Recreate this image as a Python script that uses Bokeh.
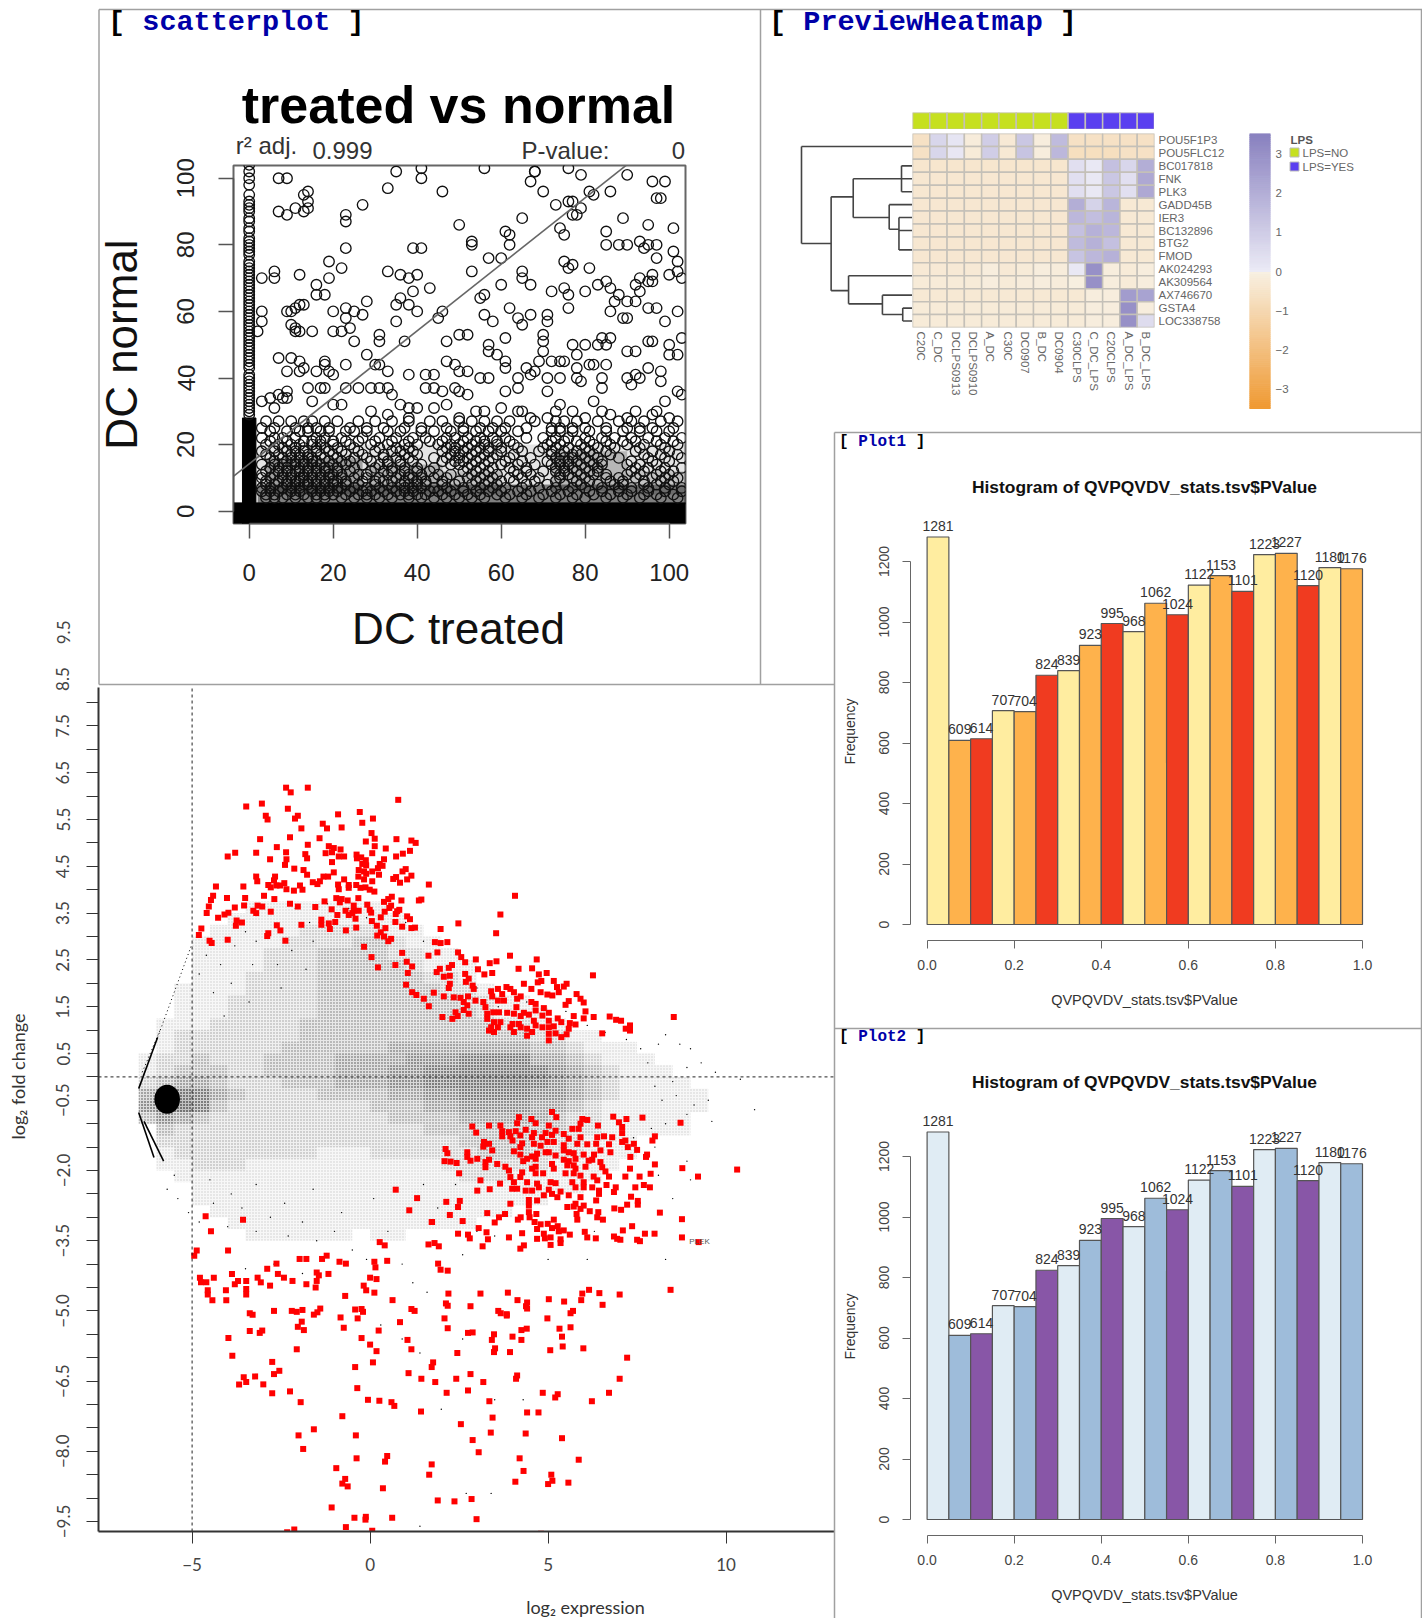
import math
import numpy as np
from bokeh.core.properties import value
from bokeh.embed import file_html
from bokeh.layouts import column
from bokeh.models import (ColumnDataSource, FactorRange, FixedTicker, LinearAxis,
                          LinearColorMapper, Range1d, CategoricalAxis)
from bokeh.plotting import figure
from bokeh.resources import INLINE

# ---------- data: histograms
hist_breaks = [i / 20 for i in range(21)]
hist_counts = [1281, 609, 614, 707, 704, 824, 839, 923, 995, 968, 1062, 1024, 1122, 1153, 1101, 1223, 1227, 1120, 1180, 1176]
hist_colors_1 = ["#FFEDA0", "#FEB24C", "#F03B20"]
hist_colors_2 = ["#E0ECF4", "#9EBCDA", "#8856A7"]

# ---------- data: heatmap
heat_rows = ["POU5F1P3", "POU5FLC12", "BC017818", "FNK", "PLK3", "GADD45B", "IER3", "BC132896", "BTG2", "FMOD",
             "AK024293", "AK309564", "AX746670", "GSTA4", "LOC338758"]
heat_cols = ["C20C", "C_DC", "DCLPS0913", "DCLPS0910", "A_DC", "C30C", "DC0907", "B_DC", "DC0904", "C30CLPS", "C_DC_LPS",
             "C20CLPS", "A_DC_LPS", "B_DC_LPS"]
heat_values = [
    [-.6, .7, .2, -.15, 1.0, -.25, 1.2, -.1, 1.6, -.6, -.6, -.6, -.6, -.6],
    [-.6, .7, .15, -.2, 1.0, -.3, 1.3, -.1, 1.7, -.7, -.7, -.7, -.6, -.6],
    [-.4, -.4, -.4, -.4, -.4, -.4, -.4, -.4, -.4, .4, .1, 1.4, .7, 2.0],
    [-.35, -.35, -.35, -.35, -.35, -.35, -.35, -.35, -.35, .4, .1, 1.2, .4, 2.2],
    [-.35, -.35, -.35, -.35, -.35, -.35, -.35, -.35, -.35, .4, .1, 1.2, .4, 2.2],
    [-.35, -.35, -.35, -.35, -.35, -.35, -.35, -.35, -.35, 2.0, .8, 1.8, -.3, -.3],
    [-.35, -.35, -.35, -.35, -.35, -.35, -.35, -.35, -.35, 1.7, 1.5, 1.8, -.3, -.3],
    [-.35, -.35, -.35, -.35, -.35, -.35, -.35, -.35, -.35, 1.4, 1.9, 1.7, -.3, -.3],
    [-.35, -.35, -.35, -.35, -.35, -.35, -.35, -.35, -.35, 1.6, 1.9, 1.4, -.3, -.3],
    [-.35, -.35, -.35, -.35, -.35, -.35, -.35, -.35, -.35, 1.3, 1.7, 1.9, -.3, -.3],
    [-.25, -.25, -.25, -.25, -.1, -.25, -.2, -.1, -.15, .1, 3.0, -.1, -.2, -.1],
    [-.2, -.2, -.2, -.2, -.1, -.2, -.15, -.1, -.15, -.05, 3.0, -.1, -.2, -.1],
    [-.3, -.3, -.3, -.3, -.3, -.3, -.3, -.3, -.3, -.3, -.1, -.1, 2.6, 2.4],
    [-.2, -.2, -.2, -.2, -.2, -.2, -.2, -.2, -.2, -.2, -.1, -.1, 3.0, -.1],
    [-.2, -.2, -.2, -.2, -.2, -.2, -.2, -.2, -.2, -.2, -.1, -.1, 3.0, .5],
]
heat_lps = ["NO"] * 9 + ["YES"] * 5
dend_vertical = [(1.0, .5, 8), (.733, 4.4, 11.65), (.534, 3, 6), (.099, 2, 4), (.21, 5, 6.9), (.122, 6, 8.5),
                 (.576, 10.5, 12.67), (.271, 12, 13.5), (.088, 13, 14)]
dend_horizontal = [(.5, 1, 0), (8, 1, .733), (4.4, .733, .534), (11.65, .733, .576), (3, .534, .099), (6, .534, .21),
                   (2, .099, 0), (3, .099, 0), (4, .099, 0), (5, .21, 0), (6.9, .21, .122), (6, .122, 0), (7, .122, 0),
                   (8.5, .122, 0), (10.5, .576, 0), (12.67, .576, .271), (12, .271, 0), (13.5, .271, .088), (13, .088, 0),
                   (14, .088, 0)]
cbar_ticks = [-3, -2, -1, 0, 1, 2, 3]

# ---------- data: scatterplot (DC treated, DC normal)
sc_column_y = [104, 102, 100, 98, 95, 92, 91, 88, 87, 84, 81, 80, 79, 77, 74, 72, 70, 69, 67, 65, 63, 61, 58, 56, 54, 52, 50, 48,
               46, 45, 43, 40, 39, 37, 36, 34, 32, 30, 29, 31, 33, 35, 38, 41, 44, 47, 49, 51, 53, 55, 57, 59, 60, 62, 64, 66, 68, 71,
               73, 75, 78, 82, 85, 90, 93]
sc_points = [(35, 102), (41, 103), (56, 103), (68, 102), (76, 103), (79, 101), (90, 101), (99, 99), (96, 99), (41, 100), (46, 96),
    (33, 97), (7, 100), (9, 100), (13, 95), (14, 96), (14, 93), (13, 90), (14, 91), (7, 90), (9, 89), (11, 91), (27, 92), (23, 89), (23, 87),
    (50, 86), (53, 81), (53, 80), (65, 88), (61, 84), (62, 83), (62, 80), (67, 99), (68, 102), (70, 96), (73, 92), (74, 85), (75, 83),
    (76, 93), (77, 93), (77, 89), (79, 91), (78, 89), (81, 96), (82, 95), (86, 96), (85, 84), (89, 88), (85, 80), (88, 80), (90, 80), (93, 81),
    (94, 79), (95, 80), (95, 86), (97, 80), (97, 76), (97, 94), (98, 94), (101, 85), (101, 78), (102, 75), (102, 72), (103, 70), (100, 71),
    (23, 79), (39, 79), (41, 79), (19, 75), (22, 73), (19, 70), (16, 68), (16, 65), (18, 65), (12, 71), (6, 72), (6, 70), (3, 70), (33, 72),
    (36, 71), (38, 70), (40, 71), (39, 66), (43, 67), (36, 64), (35, 62), (38, 62), (40, 60), (46, 60), (45, 58), (52, 53), (55, 64), (56, 65),
    (56, 59), (60, 68), (58, 57), (61, 52), (57, 76), (60, 76), (53, 72), (65, 72), (65, 70), (67, 68), (62, 61), (64, 58), (65, 56), (67, 59),
    (71, 59), (71, 57), (72, 66), (75, 75), (75, 67), (76, 65), (76, 61), (77, 74), (76, 73), (80, 66), (81, 73), (83, 68), (85, 69), (86, 67),
    (88, 65), (87, 63), (86, 60), (89, 58), (90, 58), (90, 63), (92, 63), (92, 68), (93, 70), (93, 66), (95, 69), (96, 71), (96, 69), (95, 61),
    (97, 61), (99, 57), (102, 60), (103, 52), (3, 60), (3, 57), (2, 54), (7, 46), (10, 60), (10, 46), (9, 60), (11, 61), (12, 62), (13, 62),
    (10, 56), (11, 55), (11, 54), (12, 54), (15, 54), (20, 60), (23, 61), (23, 58), (24, 55), (22, 54), (20, 54), (25, 60), (25, 51), (27, 59),
    (28, 63), (31, 53), (31, 51), (35, 57), (37, 51), (47, 51), (50, 53), (28, 47), (30, 44), (31, 44), (12, 45), (13, 43), (12, 42), (16, 42),
    (9, 42), (18, 45), (18, 44), (19, 42), (20, 41), (23, 44), (33, 42), (38, 41), (42, 41), (44, 41), (42, 37), (44, 37), (46, 36), (47, 45),
    (49, 44), (50, 42), (52, 42), (49, 37), (50, 36), (52, 35), (55, 40), (57, 40), (57, 50), (57, 48), (59, 47), (61, 45), (61, 43), (61, 36),
    (64, 40), (64, 37), (66, 43), (67, 41), (68, 42), (69, 45), (70, 48), (70, 51), (70, 53), (72, 45), (71, 40), (71, 36), (74, 40), (74, 45),
    (75, 45), (77, 50), (78, 47), (80, 50), (78, 43), (78, 40), (79, 39), (81, 44), (82, 44), (83, 50), (84, 52), (85, 50), (85, 44), (84, 40),
    (84, 37), (86, 52), (90, 48), (92, 48), (92, 41), (90, 40), (91, 38), (93, 40), (95, 51), (96, 51), (95, 43), (98, 42), (98, 39), (100, 50),
    (100, 47), (102, 47), (102, 36), (103, 35), (99, 33), (97, 30), (3, 33), (5, 34), (7, 35), (8, 34), (9, 36), (9, 34), (6, 31), (17, 37),
    (18, 37), (14, 37), (15, 33), (20, 32), (22, 32), (23, 37), (26, 37), (29, 37), (31, 37), (33, 37), (34, 35), (36, 32), (38, 31), (40, 31),
    (38, 28), (44, 31), (47, 32), (29, 30), (33, 29), (50, 28), (54, 30), (56, 30), (60, 31), (64, 30), (65, 30), (67, 28), (71, 28), (73, 30),
    (74, 32), (77, 30), (80, 28), (82, 33), (84, 30), (86, 29), (90, 28), (92, 30), (96, 29), (100, 28)]
sc_band_rows = [
    (27, [4, 7, 10, 13, 15, 18, 21, 26, 30, 34, 38, 43, 46, 50, 53, 56, 59, 62, 68, 73, 75, 78, 83, 88, 91, 94, 98, 102]),
    (25, [3, 6, 11, 14, 16, 19, 24, 28, 32, 37, 41, 47, 51, 55, 58, 61, 66, 72, 74, 77, 80, 85, 90, 93, 96, 101]),
    (24, [5, 9, 12, 14, 17, 19, 23, 25, 28, 33, 36, 41, 44, 48, 51, 54, 57, 60, 64, 72, 74, 77, 81, 85, 89, 93, 97, 100]),
    (22, [3, 6, 8, 11, 16, 18, 22, 27, 31, 35, 39, 42, 47, 49, 52, 55, 58, 61, 66, 70, 73, 76, 80, 84, 87, 91, 95, 99, 103]),
    (21, [5, 9, 13, 15, 17, 20, 23, 26, 30, 34, 38, 43, 46, 51, 54, 56, 59, 62, 72, 75, 78, 81, 85, 89, 92, 97, 101]),
    (20, [4, 7, 10, 12, 15, 17, 20, 24, 29, 33, 37, 40, 45, 48, 50, 53, 56, 59, 63, 71, 74, 79, 82, 86, 90, 94, 98, 102]),
    (19, [6, 8, 11, 13, 16, 18, 21, 25, 31, 35, 38, 47, 49, 52, 55, 57, 60, 64, 70, 73, 76, 80, 83, 87, 93, 99]),
    (18, [3, 6, 9, 11, 13, 16, 19, 22, 26, 30, 34, 36, 39, 46, 49, 51, 54, 57, 60, 65, 69, 72, 75, 78, 81, 85, 92, 96, 100]),
    (17, [4, 7, 10, 12, 14, 17, 20, 23, 27, 32, 37, 40, 48, 50, 53, 56, 59, 63, 72, 74, 77, 79, 82, 86, 94, 98, 102]),
    (16, [5, 8, 10, 12, 14, 15, 18, 21, 25, 28, 32, 35, 38, 44, 47, 50, 52, 55, 58, 62, 67, 73, 75, 77, 80, 83, 88, 95, 99, 103]),
    (15, [6, 9, 11, 13, 15, 16, 19, 22, 24, 29, 33, 36, 39, 46, 49, 51, 54, 57, 61, 65, 71, 74, 76, 78, 81, 84, 91, 96, 100]),
    (14, [3, 6, 8, 10, 11, 13, 15, 17, 20, 23, 27, 31, 33, 36, 41, 48, 50, 53, 56, 60, 64, 68, 72, 74, 76, 79, 82, 84, 90, 93, 97]),
    (13, [5, 7, 9, 12, 14, 16, 18, 19, 21, 25, 30, 34, 37, 40, 44, 52, 55, 58, 62, 66, 73, 75, 77, 80, 83, 92, 95, 99, 103]),
    (12, [4, 7, 9, 11, 12, 14, 16, 18, 21, 24, 29, 32, 34, 37, 40, 43, 51, 54, 57, 63, 66, 70, 73, 75, 78, 81, 83, 91, 94, 98, 101]),
    (11, [3, 6, 8, 10, 13, 15, 17, 19, 20, 22, 26, 28, 33, 36, 38, 41, 45, 48, 53, 56, 59, 64, 67, 74, 76, 79, 82, 85, 90, 93, 97, 100]),
    (10, [3, 5, 8, 10, 12, 13, 15, 17, 19, 22, 25, 28, 31, 35, 38, 39, 41, 44, 47, 52, 55, 58, 62, 65, 69, 74, 77, 80, 85, 88, 92, 96, 99, 102]),
    (9, [4, 7, 9, 11, 12, 14, 16, 18, 20, 21, 23, 27, 30, 32, 34, 37, 40, 42, 46, 50, 54, 57, 60, 63, 68, 73, 78, 81, 86, 89, 94, 98, 101]),
    (8, [4, 6, 9, 11, 13, 14, 16, 18, 20, 23, 26, 30, 33, 36, 38, 40, 42, 46, 49, 53, 56, 59, 66, 71, 75, 79, 83, 87, 89, 94, 97, 100]),
    (7, [3, 5, 8, 10, 12, 15, 17, 19, 21, 22, 25, 28, 31, 34, 37, 39, 41, 44, 47, 51, 55, 58, 61, 65, 69, 73, 77, 80, 84, 88, 91, 95, 99, 103]),
    (6, [3, 5, 7, 10, 12, 15, 17, 19, 21, 24, 27, 29, 32, 35, 37, 39, 43, 45, 48, 51, 54, 57, 60, 64, 67, 72, 76, 81, 84, 88, 91, 95, 99, 103]),
    (5, [4, 6, 9, 11, 13, 16, 18, 20, 23, 26, 28, 30, 33, 36, 38, 40, 42, 46, 49, 52, 55, 59, 62, 66, 70, 74, 78, 82, 86, 90, 94, 97, 101]),
    (4, [4, 6, 8, 11, 14, 16, 18, 22, 25, 28, 31, 34, 38, 41, 44, 47, 50, 53, 56, 61, 65, 69, 73, 77, 80, 85, 89, 93, 98, 102]),
]
# ink build-up of overlapping rings, by area: x from, x to, y from, y to, darkness
sc_ink_patches = [(2, 105, 2, 8, .5), (2, 105, 8, 20, .1), (4, 27, 5, 16, .3), (28, 46, 5, 14, .22), (46, 60, 5, 12, .16),
                  (72, 90, 6, 18, .2), (90, 105, 5, 12, .15)]
sc_fit_x = [-3.7, 103.9]
sc_fit_y = [10.5, 118]
sc_floor_band = (-4, 105, -4, 2.5)       # solid black band of overlapping zeros
sc_wall_band = (-1.6, 1.6, -4, 28)       # solid black wall of overlapping zeros

# ---------- data: MA plot (log2 expression, log2 fold change), red = significant
ma_red_up = [(-2.36, 6.18), (-2.23, 6.08), (-1.75, 6.18), (-3.48, 5.78), (-3.04, 5.84), (.79, 5.92), (-2.31, 5.73), (-2.93, 5.58), (-2.88, 5.5),
    (-2.03, 5.58), (-2.11, 5.52), (-1.93, 5.31), (-.9, 5.61), (-.29, 5.66), (-.22, 5.43), (.08, 5.52), (-1.33, 5.41), (-1.21, 5.31), (-.8, 5.33),
    (.04, 5.21), (.13, 5.09), (-3.09, 5.08), (-2.25, 5.12), (-1.42, 5.1), (-.12, 5.03), (.74, 5.08), (1.16, 5.05), (1.28, 5.0), (-1.75, 4.96),
    (.13, 4.93), (-2.62, 4.91), (-1.16, 4.93), (-1.02, 4.89), (-.83, 4.86), (.44, 4.88), (1.12, 4.83), (-3.79, 4.79), (-4.0, 4.71), (-3.2, 4.79),
    (-2.36, 4.8), (-1.25, 4.78), (-1.07, 4.8), (.06, 4.78), (.92, 4.77), (-1.82, 4.76), (.73, 4.71), (-.88, 4.71), (-.73, 4.71), (-.38, 4.75),
    (-.37, 4.67), (-.25, 4.69), (-2.81, 4.65), (-2.35, 4.65), (-1.77, 4.67), (-.12, 4.63), (.39, 4.65), (-1.07, 4.59), (-.22, 4.55), (-.11, 4.52),
    (-2.39, 4.53), (.27, 4.55), (.35, 4.51), (-2.13, 4.45), (-1.87, 4.42), (-.32, 4.42), (.22, 4.46), (1.0, 4.44), (.91, 4.39), (-1.02, 4.37),
    (-.17, 4.39), (.06, 4.39), (-1.77, 4.32), (-.11, 4.34), (-.33, 4.28), (-3.2, 4.28), (-2.67, 4.28), (-1.31, 4.28), (-1.18, 4.28), (.25, 4.32),
    (1.16, 4.3), (.73, 4.27), (.65, 4.23), (-.73, 4.22), (1.04, 4.22), (-3.17, 4.18), (-2.7, 4.2), (-1.41, 4.18), (-1.61, 4.16), (-.17, 4.22),
    (.84, 4.15), (.06, 4.18), (-2.41, 4.14), (-2.86, 4.1), (-1.48, 4.12), (-.9, 4.11), (-.6, 4.1), (-.39, 4.1), (-3.56, 4.07), (-4.33, 4.07),
    (-2.79, 4.05), (-2.63, 4.09), (-2.53, 4.09), (-2.35, 4.01), (-1.97, 4.09), (-.13, 4.05), (-.88, 4.01), (-.6, 4.04), (-.27, 4.04), (-.01, 4.0),
    (.12, 3.96), (-1.9, 4.0), (-2.14, 3.98), (-4.41, 3.87), (-4.47, 3.78), (-2.98, 3.87), (-3.51, 3.82), (-4.02, 3.82), (-2.69, 3.8), (-.95, 3.82),
    (-.8, 3.8), (-.63, 3.77), (-.33, 3.82), (-1.28, 3.75), (-.85, 3.73), (.61, 3.85), (.51, 3.8), (.39, 3.74), (.88, 3.77), (1.37, 3.77), (-2.25, 3.7),
    (-.46, 3.66), (-.08, 3.68), (-2.03, 3.64), (-1.54, 3.63), (-3.54, 3.66), (-3.8, 3.62), (-3.16, 3.66), (-3.03, 3.64), (-4.53, 3.64), (.59, 3.66),
    (.54, 3.61), (-1.08, 3.58), (-.69, 3.55), (-.01, 3.57), (-.32, 3.55), (-.46, 3.55), (.82, 3.57), (.76, 3.54), (-3.28, 3.55), (-2.79, 3.53),
    (-4.59, 3.5), (-3.98, 3.51), (-4.09, 3.47), (-3.2, 3.5), (-.92, 3.46), (-.6, 3.46), (-.5, 3.5), (.03, 3.51), (.41, 3.53), (.72, 3.48), (-4.27, 3.4),
    (.3, 3.41), (1.04, 3.43), (1.12, 3.37), (-.41, 3.38), (-1.37, 3.36), (-3.75, 3.34), (-3.6, 3.3), (.05, 3.33), (-.98, 3.31), (.71, 3.31),
    (-1.16, 3.28), (-3.77, 3.23), (-2.62, 3.24), (-1.93, 3.25), (-1.37, 3.25), (.19, 3.23), (.9, 3.21), (1.16, 3.18), (1.26, 3.19), (-4.74, 3.17),
    (-1.13, 3.16), (-.39, 3.19), (.43, 3.18), (-2.52, 3.13), (-.68, 3.13), (.3, 3.09), (-2.86, 3.07), (-4.81, 3.03), (-2.89, 3.01), (.2, 3.02),
    (.39, 3.0), (.59, 2.95), (.51, 2.9), (-4.51, 2.91), (-4.45, 2.86), (-4.0, 2.93), (-2.38, 2.91), (-.17, 2.78), (.04, 2.56), (.9, 2.65), (.22, 2.34),
    (.71, 2.39), (1.03, 2.46), (1.18, 2.36), (1.06, 2.22), (1.01, 1.97), (1.18, 1.81), (1.3, 1.75),
    (1.65, 4.11), (1.44, 3.79), (4.07, 3.87), (3.66, 3.47), (2.48, 3.28), (1.98, 3.16), (3.54, 3.07), (1.82, 2.88), (1.98, 2.86), (2.17, 2.88),
    (3.93, 2.59), (4.68, 2.51), (2.97, 2.51), (3.36, 2.43), (3.55, 2.47), (1.64, 2.59), (1.89, 2.66), (2.47, 2.66), (2.56, 2.56), (2.67, 2.45),
    (2.3, 2.39), (2.21, 2.33), (4.17, 2.31), (4.55, 2.32), (3.03, 2.3), (1.87, 2.24), (1.96, 2.31), (2.07, 2.14), (2.24, 2.16), (2.67, 2.2), (3.21, 2.19),
    (3.43, 2.22), (4.74, 2.19), (4.96, 2.22), (6.26, 2.17), (2.77, 2.1), (2.69, 2.03), (4.71, 2.02), (4.81, 2.05), (5.16, 2.05), (2.24, 1.99), (2.21, 1.9),
    (2.88, 1.95), (2.91, 1.88), (4.32, 1.99), (5.52, 1.99), (5.44, 1.93), (5.25, 1.92), (3.83, 1.92), (3.59, 1.88), (3.94, 1.88), (4.53, 1.88), (4.79, 1.81),
    (5.3, 1.81), (3.4, 1.83), (1.79, 1.8), (3.71, 1.77), (4.04, 1.81), (4.23, 1.72), (4.98, 1.76), (5.12, 1.74), (5.8, 1.77), (2.07, 1.72), (2.35, 1.7),
    (2.54, 1.69), (2.75, 1.72), (3.43, 1.72), (3.59, 1.63), (3.76, 1.63), (4.53, 1.6), (4.65, 1.56), (4.13, 1.67), (5.91, 1.67), (6.0, 1.59), (1.51, 1.67),
    (2.96, 1.63), (3.18, 1.6), (5.58, 1.62), (5.49, 1.54), (2.63, 1.6), (2.73, 1.53), (4.88, 1.47), (1.65, 1.51), (3.24, 1.49), (4.11, 1.49), (2.4, 1.38),
    (2.63, 1.43), (2.77, 1.35), (3.46, 1.38), (3.62, 1.38), (3.85, 1.37), (4.04, 1.35), (4.32, 1.37), (4.65, 1.42), (4.84, 1.31), (5.02, 1.37), (6.05, 1.4),
    (3.29, 1.35), (2.03, 1.28), (2.31, 1.24), (2.46, 1.3), (3.29, 1.24), (4.23, 1.3), (4.46, 1.33), (5.27, 1.25), (6.0, 1.25), (6.28, 1.28), (6.73, 1.29),
    (6.91, 1.22), (7.05, 1.2), (8.53, 1.28), (5.72, 1.3), (3.48, 1.17), (3.66, 1.17), (4.0, 1.13), (4.18, 1.13), (4.6, 1.2), (5.02, 1.2), (5.37, 1.17),
    (5.61, 1.15), (5.77, 1.12), (7.3, 1.1), (3.4, 1.06), (3.59, 1.06), (3.94, 1.06), (4.23, 1.06), (4.41, 1.03), (4.65, 1.1), (4.84, 1.06), (5.02, 1.06),
    (5.16, 1.08), (5.58, 1.03), (7.18, 1.03), (7.3, .99), (3.34, .99), (3.48, .96), (4.04, .96), (4.55, .96), (5.02, .92), (5.21, .93), (6.52, .93),
    (5.52, .91), (4.41, .88), (5.37, .85), (5.02, .78)]
ma_red_down = [(4.18, -.86), (4.53, -.9), (5.11, -.75), (5.23, -.86), (6.83, -.85), (7.2, -.9), (7.65, -.87), (8.72, -.98), (5.96, -.9), (6.1, -.92),
    (4.65, -.99), (4.13, -.99), (5.91, -1.0), (6.99, -.97), (6.4, -1.04), (2.87, -1.06), (3.34, -1.04), (3.66, -1.04), (7.08, -1.07), (5.68, -1.11),
    (5.86, -1.11), (4.37, -1.13), (5.02, -1.04), (5.21, -1.15), (3.71, -1.16), (3.9, -1.18), (4.09, -1.16), (2.98, -1.19), (4.6, -1.2), (4.93, -1.2),
    (5.44, -1.22), (7.08, -1.2), (3.71, -1.27), (3.94, -1.27), (4.22, -1.25), (4.55, -1.29), (4.83, -1.29), (5.11, -1.24), (5.91, -1.29), (6.38, -1.29),
    (6.57, -1.27), (6.8, -1.29), (8.0, -1.27), (7.93, -1.36), (5.58, -1.32), (7.17, -1.36), (7.08, -1.39), (3.2, -1.39), (3.34, -1.43), (4.0, -1.36),
    (4.27, -1.42), (4.6, -1.43), (4.98, -1.39), (5.16, -1.39), (5.44, -1.46), (6.1, -1.44), (6.35, -1.43), (6.71, -1.44), (7.41, -1.43), (7.24, -1.5),
    (3.18, -1.49), (4.22, -1.5), (4.79, -1.47), (5.82, -1.43), (2.12, -1.54), (3.43, -1.57), (4.04, -1.59), (4.93, -1.61), (5.02, -1.61), (5.44, -1.57),
    (5.58, -1.61), (6.47, -1.57), (6.75, -1.61), (7.5, -1.56), (2.17, -1.63), (2.73, -1.61), (4.22, -1.66), (4.55, -1.7), (4.69, -1.64), (5.21, -1.68),
    (5.72, -1.63), (6.0, -1.66), (6.29, -1.66), (7.78, -1.66), (7.75, -1.71), (7.31, -1.71), (2.73, -1.71), (2.82, -1.79), (3.01, -1.75), (3.34, -1.77),
    (2.09, -1.8), (2.26, -1.81), (2.43, -1.84), (3.24, -1.82), (4.3, -1.8), (4.41, -1.75), (4.65, -1.75), (5.44, -1.77), (5.58, -1.8), (5.77, -1.75),
    (6.14, -1.79), (6.24, -1.77), (6.47, -1.82), (5.11, -1.86), (3.57, -1.86), (4.65, -1.92), (5.54, -1.89), (5.72, -1.89), (6.05, -1.92), (8.0, -1.87),
    (8.77, -1.95), (10.31, -1.98), (3.24, -1.93), (3.8, -1.92), (4.55, -1.96), (5.16, -1.96), (5.77, -1.96), (6.52, -1.93), (7.3, -1.96), (3.9, -2.0),
    (4.27, -2.04), (2.5, -2.06), (4.65, -2.06), (4.86, -2.06), (5.49, -2.06), (5.72, -2.06), (6.61, -2.02), (7.88, -2.07), (3.94, -2.14), (4.22, -2.14),
    (5.91, -2.11), (6.28, -2.13), (6.71, -2.13), (7.17, -2.13), (7.57, -2.13), (9.21, -2.13), (3.1, -2.21), (4.04, -2.25), (4.41, -2.25), (4.69, -2.28),
    (5.07, -2.25), (5.21, -2.27), (5.68, -2.25), (6.0, -2.25), (6.38, -2.21), (3.65, -2.28), (7.69, -2.31), (7.86, -2.36), (6.64, -2.31), (6.9, -2.36),
    (7.45, -2.36), (3.99, -2.39), (4.13, -2.39), (3.01, -2.43), (3.36, -2.4), (4.37, -2.43), (4.55, -2.43), (4.74, -2.36), (5.02, -2.41), (5.35, -2.45),
    (5.77, -2.36), (6.0, -2.36), (6.24, -2.36), (6.43, -2.43), (4.88, -2.53), (5.11, -2.5), (5.26, -2.57), (5.58, -2.53), (5.91, -2.57), (6.43, -2.5),
    (6.85, -2.46), (7.33, -2.56), (2.14, -2.67), (2.52, -2.65), (4.46, -2.63), (4.69, -2.64), (6.35, -2.64), (7.52, -2.65), (3.94, -2.71), (5.77, -2.71),
    (4.46, -2.75), (7.22, -2.73), (7.52, -2.73), (2.47, -2.78), (5.54, -2.78), (5.72, -2.77), (6.0, -2.75), (5.91, -2.82), (6.86, -2.81), (7.05, -2.84),
    (4.46, -2.89), (6.17, -2.87), (6.41, -2.89), (8.14, -2.9), (3.29, -2.91), (3.79, -2.93), (2.24, -2.95), (4.67, -2.93), (4.48, -3.0), (5.8, -2.93),
    (3.62, -3.0), (6.38, -3.0), (4.23, -3.0), (4.15, -3.05), (5.82, -3.05), (5.16, -3.05), (6.54, -3.05), (8.76, -3.04), (2.6, -3.08), (3.5, -3.11),
    (1.74, -3.1), (4.62, -3.1), (4.79, -3.15), (4.99, -3.14), (4.69, -3.25), (7.36, -3.19), (5.27, -3.19), (7.1, -3.28), (5.11, -3.23), (5.3, -3.3),
    (5.44, -3.28), (3.05, -3.23), (6.03, -3.31), (2.47, -3.35), (2.75, -3.37), (3.27, -3.32), (4.27, -3.34), (4.88, -3.35), (5.61, -3.37), (6.1, -3.43),
    (7.72, -3.35), (7.99, -3.35), (2.8, -3.45), (3.31, -3.47), (3.9, -3.43), (4.69, -3.46), (4.91, -3.45), (5.07, -3.43), (5.35, -3.47), (5.35, -3.55),
    (6.34, -3.45), (6.85, -3.41), (6.94, -3.46), (7.03, -3.48), (7.5, -3.48), (7.58, -3.51), (8.76, -3.43), (9.23, -3.53), (5.07, -3.59), (1.81, -3.55),
    (1.64, -3.58), (3.16, -3.62), (4.22, -3.67), (4.32, -3.6), (1.93, -3.62), (.72, -2.41), (1.32, -2.59), (1.1, -2.85), (1.73, -3.1), (-4.62, -2.98),
    (-3.57, -3.05), (-4.47, -3.3), (.27, -3.53), (.41, -3.6), (-4.87, -3.71), (-3.99, -3.71), (-4.94, -3.82), (-1.98, -3.89), (-1.79, -3.89), (-1.22, -3.82),
    (-1.35, -3.89), (-.86, -3.95), (-.68, -3.99), (.12, -3.95), (.48, -3.93), (-2.63, -3.99), (.15, -4.07), (-2.89, -4.1), (1.91, -3.99), (-3.88, -4.21),
    (-2.59, -4.21), (-1.5, -4.18), (-1.17, -4.21), (-1.44, -4.24), (1.98, -4.12), (2.18, -4.14), (-4.78, -4.29), (-4.39, -4.29), (-2.42, -4.29), (-3.16, -4.29),
    (0, -4.29), (.18, -4.32), (-4.75, -4.39), (-4.6, -4.39), (-3.71, -4.36), (-3.48, -4.36), (-3.07, -4.39), (-2.18, -4.36), (-1.5, -4.36), (-2.81, -4.46),
    (-3.8, -4.43), (-1.79, -4.43), (-.18, -4.46), (-4.56, -4.56), (-4.05, -4.56), (-3.48, -4.53), (-1.53, -4.5), (-.11, -4.56), (-4.43, -4.77), (-4.04, -4.77),
    (.63, -4.77), (2.13, -4.84), (4.14, -4.77), (4.41, -4.82), (5.02, -4.75), (5.45, -4.8), (5.93, -4.77), (6.53, -4.87), (-4.56, -4.65), (-3.48, -4.65),
    (-.7, -4.68), (.12, -4.61), (2.2, -4.63), (3.1, -4.63), (3.87, -4.61), (5.96, -4.63), (6.15, -4.55), (6.44, -4.62), (7.01, -4.65), (8.44, -4.55),
    (-3.38, -5.05), (-3.3, -5.08), (-2.7, -5.0), (-2.2, -5.0), (-2.06, -5.02), (-1.9, -4.98), (-1.4, -4.95), (-1.48, -5.03), (-1.58, -5.08), (-.42, -4.97),
    (-.24, -4.96), (-.2, -5.02), (1.16, -4.96), (1.25, -5.0), (3.6, -5.0), (3.67, -5.05), (5.7, -5.0), (5.63, -5.05), (3.84, -5.1), (3.84, -5.07), (4.38, -4.9),
    (4.41, -4.95), (2.18, -4.89), (2.82, -4.9), (-.83, -5.14), (-.35, -5.16), (-2.03, -5.34), (-1.92, -5.23), (.84, -5.24), (2.09, -5.16), (4.98, -5.16),
    (-3.38, -5.43), (-3.03, -5.42), (-3.1, -5.47), (-1.86, -5.41), (-.74, -5.36), (.24, -5.42), (2.18, -5.37), (2.75, -5.47), (2.88, -5.46), (4.4, -5.38),
    (4.25, -5.41), (5.32, -5.38), (5.63, -5.35), (-3.98, -5.58), (-.24, -5.58), (1.05, -5.62), (3.48, -5.5), (4.0, -5.55), (4.25, -5.62), (3.42, -5.62),
    (5.39, -5.55), (0, -5.72), (-3.87, -5.96), (-2.06, -5.82), (.18, -5.86), (1.16, -5.82), (2.45, -5.9), (3.51, -5.8), (3.48, -5.88), (3.93, -5.88), (5.06, -5.84),
    (5.99, -5.8), (5.41, -5.76), (-2.75, -6.09), (-.42, -6.2), (.08, -6.1), (1.77, -6.1), (1.73, -6.2), (7.22, -6.0), (-2.7, -6.35), (-2.55, -6.28), (1.08, -6.33),
    (2.82, -6.35), (-3.68, -6.57), (-3.48, -6.52), (-3.0, -6.57), (-3.23, -6.4), (-3.55, -6.42), (1.44, -6.45), (1.83, -6.52), (3.18, -6.52), (2.42, -6.45),
    (7.01, -6.45), (4.13, -6.38), (4.1, -6.45), (-2.75, -6.76), (-2.25, -6.72), (-.36, -6.65), (2.15, -6.75), (2.75, -6.7), (4.85, -6.75), (5.2, -6.85), (5.27, -6.78),
    (6.71, -6.75), (-1.95, -6.95), (-.06, -6.9), (.26, -6.92), (.6, -6.95), (.68, -7.03), (3.35, -6.93), (6.23, -6.93), (1.43, -7.15), (-.78, -7.25), (3.44, -7.28),
    (4.41, -7.17), (4.73, -7.17), (2.55, -7.42), (-1.58, -7.53), (-2.01, -7.66), (-.4, -7.66), (3.39, -7.6), (4.37, -7.62), (5.39, -7.72), (-1.88, -7.95), (2.88, -7.76),
    (-.38, -8.15), (.48, -8.1), (3.05, -8.02), (4.2, -8.15), (.42, -8.22), (5.86, -8.18), (-.95, -8.36), (1.73, -8.28), (4.31, -8.42), (5.09, -8.5), (-.7, -8.59),
    (1.66, -8.5), (-.78, -8.69), (-.63, -8.75), (.36, -8.79), (4.08, -8.65), (5.0, -8.7), (5.12, -8.63), (5.57, -8.67), (1.9, -9.05), (2.37, -9.07), (2.85, -9.02),
    (-1.08, -9.2), (-.44, -9.42), (-.13, -9.46), (-.12, -9.4), (.62, -9.42), (2.99, -9.45), (-.68, -9.62), (-2.33, -9.73), (-2.13, -9.67), (.06, -9.7), (-.13, -9.8),
    (4.8, -9.76), (-2.29, -9.8), (1.6, -10.0)]
ma_red_floor = [(-2.06, -10.0), (-.02, -10.2), (.29, -10.0), (4.58, -10.0)]
ma_black_dots = [(-4.8, 2.2), (-4.6, 2.6), (-4.4, 2.9), (-4.2, 2.4), (-3.8, 2.8), (-3.5, 3.1), (-3.2, 2.9), (-2.9, 3.1), (-2.6, 3.2), (-2.1, 3.6), (-1.7, 3.3),
    (-1.2, 3.7), (-.6, 3.6), (-.1, 3.4), (.4, 3.5), (1.0, 3.3), (1.5, 2.9), (2.2, 2.2), (3.0, 1.9), (3.6, 1.5), (4.4, 1.6), (5.5, 1.4), (6.1, 1.1), (6.6, .95), (7.2, .8),
    (7.6, .6), (8.1, .7), (8.3, .9), (8.7, .7), (9.0, .6), (9.3, .3), (9.7, .1), (10.4, -.05), (8.2, -.5), (8.6, -.4), (9.1, -.6), (9.5, -.5), (8.9, -.8), (9.6, -.95),
    (8.3, -1.0), (7.9, -1.1), (10.8, -.7), (8.0, -.2), (8.5, -.1), (8.9, .2), (7.8, .3), (7.4, -1.3), (8.0, -1.5), (7.7, -1.7), (8.9, -1.8), (-5.5, -2.1), (-5.7, -2.4),
    (-5.4, -2.6), (-5.1, -2.9), (-4.8, -3.1), (-4.4, -2.7), (-4.0, -3.2), (-3.6, -2.8), (-3.2, -3.3), (-2.8, -3.0), (-2.3, -3.4), (-1.9, -3.1), (-1.5, -3.5), (-1.0, -3.3),
    (-.5, -3.7), (-.1, -3.9), (.5, -3.3), (.9, -4.0), (1.2, -4.4), (1.6, -4.6), (2.6, -3.8), (3.0, -3.3), (3.5, -3.4), (-3.5, -4.1), (-2.7, -4.0), (-1.9, -4.2), (.3, -5.3),
    (.9, -5.6), (1.4, -5.9), (2.0, -7.1), (2.7, -8.9), (3.4, -8.9), (1.4, -9.6), (2.6, -5.6), (3.5, -6.9), (4.3, -6.9), (5.0, -3.9), (6.1, -3.9), (6.3, -3.3),
    (8.3, -3.9), (8.5, -2.6), (8.1, -2.1), (9.0, -2.2), (-2.6, 2.4), (-2.2, 2.7), (-1.6, 2.9), (-3.3, 2.4), (-3.9, 2.0), (-4.4, 1.8), (-4.1, 1.3), (-3.4, 1.6), (-2.5, 1.9),
    (-1.8, 2.3), (-4.5, -2.2), (-3.9, -2.5), (-3.2, -2.3), (-2.4, -2.7), (-1.6, -2.4), (-.8, -2.9), (.1, -2.6), (1.5, -2.3), (1.9, -2.8), (2.4, -2.3)]
ma_density_x0 = -6.5
ma_density_dx = 0.5
ma_density_y0 = 3.75
ma_density_dy = 0.25
ma_density_rows = [
    "0000001111111100000000000000000000",
    "0000011111111110000000000000000000",
    "0000111112222211000000000000000000",
    "0001111122223321100000000000000000",
    "0001111222333322110000000000000000",
    "0001111222333332111000000000000000",
    "0001112222333333221000000000000000",
    "0011112222333333322100000000000000",
    "0011122222333333332211000000000000",
    "0011122222333333333211100000000000",
    "0111222223333333333322110000000000",
    "0122222223333333333333221100000000",
    "0122222233333344444444332111000000",
    "1223222333344445556666443211100000",
    "1233322333344455667777654321110000",
    "2344322233344455667777654321111000",
    "4976432222333344556666554321111100",
    "5986322222222333445555443211111100",
    "3543222222222233334444432211111000",
    "0322222222222222333333332211111000",
    "0222222222222222223333222111000000",
    "0122222222111222222333222111000000",
    "0112221111111111122222211110000000",
    "0011111111111111112221111100000000",
    "0001111111111111111111111000000000",
    "0001111111111111111111100000000000",
    "0000111111111111111110000000000000",
    "0000011111111111111000000000000000",
    "0000001111110110000000000000000000",
    "0000000000000000000000000000000000",
]
ma_blob = (-5.7, -0.48, 0.72, 0.62)
ma_fan_solid = [([-6.5, -5.97], [-.25, .84]), ([-6.5, -6.07], [-.76, -1.72]), ([-6.35, -5.8], [-.95, -1.8])]
ma_fan_dotted = [([-5.97, -5.0], [.84, 2.85]), ([-6.4, -5.9], [.1, 1.0])]
ma_y_ticks_major = [x / 2 for x in range(-19, 17)]
ma_y_labels_up = [0.5, 1.5, 2.5, 3.5, 4.5, 5.5, 6.5, 7.5, 8.5, 9.5]
ma_y_labels_down = [-0.5, -2.0, -3.5, -5.0, -6.5, -8.0, -9.5]
ma_x_ticks = [-5, 0, 5, 10]
SANS = "Liberation Sans"
LIGHT = "Lato"
MONO = "Liberation Mono"
figs = []
LABELS = []


def panel(x0, y0, x1, y1, xr, yr, L=0, R=0, T=0, B=0):
    p = figure(width=x1 - x0 + L + R, height=y1 - y0 + T + B, x_range=xr, y_range=yr, output_backend="svg", toolbar_location=None,
               tools="", x_axis_location=None, y_axis_location=None, min_border_left=L, min_border_right=R, min_border_top=T,
               min_border_bottom=B, background_fill_alpha=0, border_fill_alpha=0, outline_line_color=None, frame_align=False,
               styles={"position": "absolute", "left": f"{x0 - L}px", "top": f"{y0 - T}px"})
    p.grid.visible = False
    figs.append(p)
    return p


def lab(px, py, text, size, color="#222", font=SANS, style="normal", angle=0):
    LABELS.append((px, py, text, size, color, font, style, angle))


def style_axis(a, size, color="#333", font=SANS, line="#444"):
    a.major_label_text_font = font
    a.major_label_text_font_size = f"{size}px"
    a.major_label_text_color = color
    a.axis_line_color = line
    a.major_tick_line_color = line
    a.minor_tick_line_color = None
    a.major_tick_in = 0


# ---------- MA plot
mx0, mx1, my0, my1 = 98, 834, 620, 1531
ma = panel(mx0, my0, mx1, my1, Range1d((mx0 - 369.6) / 35.6, (mx1 - 369.6) / 35.6),
           Range1d((1076.4 - my1) / 46.8, (1076.4 - my0) / 46.8), L=90, T=0, B=87)
ma_cells = {"l": [], "r": [], "b": [], "t": [], "h": [], "a": []}
for i, row in enumerate(ma_density_rows):
    for j, ch in enumerate(row):
        if ch != "0":
            ma_cells["l"].append(ma_density_x0 + j * ma_density_dx)
            ma_cells["r"].append(ma_density_x0 + (j + 1) * ma_density_dx)
            ma_cells["t"].append(ma_density_y0 - i * ma_density_dy)
            ma_cells["b"].append(ma_density_y0 - (i + 1) * ma_density_dy)
            ma_cells["h"].append(min(1.0, int(ch) * 0.17))
            ma_cells["a"].append(int(ch) * 0.03)
ma.quad(left="l", right="r", bottom="b", top="t", fill_color="black", fill_alpha="a", line_color=None, hatch_pattern="dot", hatch_scale=3,
        hatch_weight=1.0, hatch_color="black", hatch_alpha="h", source=ColumnDataSource(ma_cells))
ma.ellipse(x=[ma_blob[0]], y=[ma_blob[1]], width=[ma_blob[2]], height=[ma_blob[3]], fill_color="black", line_color=None)
ma.multi_line([f[0] for f in ma_fan_solid], [f[1] for f in ma_fan_solid], line_color="black", line_width=1.6)
ma.multi_line([f[0] for f in ma_fan_dotted], [f[1] for f in ma_fan_dotted], line_color="black", line_width=1, line_dash="1 3")
ma.scatter([d[0] for d in ma_black_dots], [d[1] for d in ma_black_dots], size=1.4, color="black", line_color=None)
ma_red = ma_red_up + ma_red_down + ma_red_floor
ma.scatter([d[0] for d in ma_red], [d[1] for d in ma_red], marker="square", size=6, fill_color="#ff0000", line_color=None)
top_y = (1076.4 - 687) / 46.8
ma.line([-5, -5], [ma.y_range.start, top_y], line_color="#222", line_width=1, line_dash="3 3")
ma.line([ma.x_range.start, ma.x_range.end], [0, 0], line_color="#222", line_width=1, line_dash="3 3")
tick_axis = LinearAxis(ticker=FixedTicker(ticks=ma_y_ticks_major), bounds=(ma.y_range.start, top_y))
style_axis(tick_axis, 1, line="#333")
tick_axis.major_tick_out = 12
tick_axis.axis_line_width = 2
tick_axis.major_label_text_alpha = 0
tick_axis.major_label_standoff = 0
ma.add_layout(tick_axis, "left")
ylab_axis = LinearAxis(ticker=FixedTicker(ticks=ma_y_labels_down + ma_y_labels_up),
                       major_label_overrides={v: f"{v:.1f}".replace("-", "\u2212") for v in ma_y_labels_down + ma_y_labels_up})
style_axis(ylab_axis, 17, font=LIGHT, color="#444")
ylab_axis.axis_line_color = None
ylab_axis.major_tick_line_color = None
ylab_axis.major_tick_out = 0
ylab_axis.major_label_orientation = "vertical"
ylab_axis.major_label_standoff = 17
ma.add_layout(ylab_axis, "left")
xax = LinearAxis(ticker=FixedTicker(ticks=ma_x_ticks), major_label_overrides={-5: "\u22125", 0: "0", 5: "5", 10: "10"})
style_axis(xax, 17, font=LIGHT, color="#444", line="#333")
xax.axis_line_width = 2
xax.major_tick_out = 12
xax.major_label_standoff = 14
ma.add_layout(xax, "below")
lab(585, 1606, "log\u2082 expression", 18, color="#333", font=LIGHT)
lab(17, 1076, "log\u2082 fold change", 18, color="#333", font=LIGHT, angle=math.pi / 2)
lab(699, 1241, "PLEK", 8, color="#555")

# ---------- scatterplot
sx0, sx1, sy0, sy1 = 233, 685, 165, 523
sc = panel(sx0, sy0, sx1, sy1, Range1d((sx0 - 248.7) / 4.2, (sx1 - 248.7) / 4.2), Range1d((510.7 - sy1) / 3.33, (510.7 - sy0) / 3.33),
           L=135, R=75, T=157, B=161)
sc.outline_line_color = "#666"
sc.outline_line_width = 2
sc.quad(left=[q[0] for q in sc_ink_patches], right=[q[1] for q in sc_ink_patches], bottom=[q[2] for q in sc_ink_patches],
        top=[q[3] for q in sc_ink_patches], fill_color="black", fill_alpha=[q[4] for q in sc_ink_patches], line_color=None)
sc.quad(left=[sc_floor_band[0]], right=[sc_floor_band[1]], bottom=[sc_floor_band[2]], top=[sc_floor_band[3]], color="black")
sc.quad(left=[sc_wall_band[0]], right=[sc_wall_band[1]], bottom=[sc_wall_band[2]], top=[sc_wall_band[3]], color="black")
sc_x = [0] * len(sc_column_y) + [q[0] for q in sc_points]
sc_y = list(sc_column_y) + [q[1] for q in sc_points]
for yy, xs in sc_band_rows:
    sc_x += xs
    sc_y += [yy] * len(xs)
sc.scatter(sc_x, sc_y, marker="circle", size=10.5, fill_color=None, line_color="#111", line_width=1.35)
sc.line(sc_fit_x, sc_fit_y, line_color="#666", line_width=1.6)
for loc in ("below", "left"):
    a = LinearAxis(ticker=FixedTicker(ticks=[0, 20, 40, 60, 80, 100]), bounds=(0, 100))
    style_axis(a, 24, color="#222", line="#555")
    a.major_tick_out = 15
    a.axis_line_width = 1.5
    a.major_tick_line_width = 1.5
    a.major_label_standoff = 25 if loc == "below" else 24
    if loc == "left":
        a.major_label_orientation = "vertical"
    sc.add_layout(a, loc)
lab(458, 104, "treated vs normal", 52, color="black", style="bold")
lab(458, 628, "DC treated", 44, color="#111")
lab(121, 344, "DC normal", 44, color="#111", angle=math.pi / 2)
lab(266, 145, "r\u00b2 adj.", 24, color="#333")
lab(342, 150, "0.999", 24, color="#333")
lab(565, 150, "P-value:", 24, color="#333")
lab(678, 150, "0", 24, color="#333")

# ---------- heatmap
neg = np.array([[0xf0, 0x9a, 0x33], [0xf8, 0xf0, 0xe2]])
pos = np.array([[0xec, 0xeb, 0xf6], [0x8a, 0x82, 0xc0]])
pal = []
for pair in (neg, pos):
    for t in np.linspace(0, 1, 128):
        c = pair[0] * (1 - t) + pair[1] * t
        pal.append("#%02x%02x%02x" % tuple(int(v) for v in c))
cmap = LinearColorMapper(palette=pal, low=-3.5, high=3.5)
hm = panel(912, 133, 1154, 327, FactorRange(*heat_cols), FactorRange(*reversed(heat_rows)), R=110, B=90)
hx, hy, hz = [], [], []
for r, row in zip(heat_rows, heat_values):
    for c, v in zip(heat_cols, row):
        hx.append(c); hy.append(r); hz.append(v)
hm.rect(x="x", y="y", width=1, height=1, source=ColumnDataSource({"x": hx, "y": hy, "z": hz}),
        fill_color={"field": "z", "transform": cmap}, line_color="#c4c0b8", line_width=1.5)
hr = CategoricalAxis()
style_axis(hr, 11.5, color="#666")
hr.axis_line_color = None
hr.major_tick_line_color = None
hr.major_tick_out = 0
hr.major_label_standoff = 4
hm.add_layout(hr, "right")
hb = CategoricalAxis()
style_axis(hb, 11.5, color="#666")
hb.axis_line_color = None
hb.major_tick_line_color = None
hb.major_tick_out = 0
hb.major_label_standoff = 4
hb.major_label_orientation = -math.pi / 2
hm.add_layout(hb, "below")

an = panel(912, 112, 1154, 129, Range1d(0, 14), Range1d(0, 1))
an.quad(left=[i for i in range(14)], right=[i + 1 for i in range(14)], bottom=0, top=1,
        fill_color=["#c6e01f" if g == "NO" else "#5a3ff0" for g in heat_lps], line_color="#c4c0b8", line_width=1.5)

de = panel(795, 133, 912, 327, Range1d(1.054, 0), Range1d(14.5, -.5))
de.segment(x0=[d[0] for d in dend_vertical], x1=[d[0] for d in dend_vertical], y0=[d[1] for d in dend_vertical],
           y1=[d[2] for d in dend_vertical], line_color="#444", line_width=1.6)
de.segment(x0=[d[1] for d in dend_horizontal], x1=[d[2] for d in dend_horizontal], y0=[d[0] for d in dend_horizontal],
           y1=[d[0] for d in dend_horizontal], line_color="#444", line_width=1.6)

cb = panel(1249, 133, 1270, 409, Range1d(0, 1), Range1d(-3.52, 3.52), R=30)
cb_edges = np.linspace(-3.52, 3.52, 141)
cb.quad(left=0, right=1, bottom="b", top="t", line_color={"field": "z", "transform": cmap}, line_width=1,
        fill_color={"field": "z", "transform": cmap},
        source=ColumnDataSource({"z": (cb_edges[:-1] + cb_edges[1:]) / 2, "b": cb_edges[:-1], "t": cb_edges[1:]}))
ca = LinearAxis(ticker=FixedTicker(ticks=cbar_ticks))
style_axis(ca, 11.5, color="#666")
ca.axis_line_color = None
ca.major_tick_line_color = None
ca.major_tick_out = 0
ca.major_label_standoff = 5
cb.add_layout(ca, "right")


# ---------- histograms
def hist(dy, colors):
    bottom = min(1028 + dy, 1618)
    p = panel(910, 490 + dy, 1384, 940 + dy, Range1d((910 - 926.6) / 435.4, (1384 - 926.6) / 435.4),
              Range1d((924 - 940) / .3025, (924 - 490) / .3025), L=76, R=38, T=58, B=bottom - 940 - dy)
    left, right = hist_breaks[:-1], hist_breaks[1:]
    fill = [colors[i % 3] for i in range(len(hist_counts))]
    p.quad(left=left, right=right, bottom=0, top=hist_counts, fill_color=fill, line_color="#555", line_width=1.2)
    p.text(x=[(a + b) / 2 for a, b in zip(left, right)], y=hist_counts, text=[str(v) for v in hist_counts], text_align="center",
           text_baseline="bottom", y_offset=-6, text_font=value(SANS), text_font_size="14px", text_color="#333")
    ax = LinearAxis(ticker=FixedTicker(ticks=[0, .2, .4, .6, .8, 1.0]), bounds=(0, 1),
                    major_label_overrides={0: "0.0", .2: "0.2", .4: "0.4", .6: "0.6", .8: "0.8", 1.0: "1.0"})
    style_axis(ax, 14, color="#444", line="#666")
    ax.major_tick_out = 8
    ax.major_label_standoff = 11
    p.add_layout(ax, "below")
    ay = LinearAxis(ticker=FixedTicker(ticks=[0, 200, 400, 600, 800, 1000, 1200]), bounds=(0, 1200))
    style_axis(ay, 14, color="#444", line="#666")
    ay.major_tick_out = 8
    ay.major_label_standoff = 14
    ay.major_label_orientation = "vertical"
    p.add_layout(ay, "left")
    lab(1144, 486 + dy, "Histogram of QVPQVDV_stats.tsv$PValue", 17.4, color="#111", style="bold")
    lab(1144, 999 + dy, "QVPQVDV_stats.tsv$PValue", 14.5, color="#333")
    lab(849, 731 + dy, "Frequency", 14, color="#333", angle=math.pi / 2)
    return p


hist(0, hist_colors_1)
hist(595, hist_colors_2)

# ---------- page furniture: panel rules, headers, heatmap legend, titles
ov = panel(0, 0, 1422, 1618, Range1d(0, 1422), Range1d(1618, 0))
rules = [(98.5, 9, 1422, 9), (98.5, 9, 98.5, 684), (760, 9, 760, 684), (98.5, 684, 834, 684), (1421, 9, 1421, 1618),
         (834, 432, 1421, 432), (834, 432, 834, 1618), (834, 1028, 1421, 1028)]
ov.segment(x0=[q[0] for q in rules], y0=[q[1] for q in rules], x1=[q[2] for q in rules], y1=[q[3] for q in rules],
           line_color="#a0a0a0", line_width=1.5)
headers = [(107.6, 22, "scatterplot", 28.5, 17.1), (768.6, 22, "PreviewHeatmap", 28.5, 17.1), (838.5, 441, "Plot1", 16, 9.6), (838.5, 1036, "Plot2", 16, 9.6)]
for hx0, hy0, txt, fs, cw in headers:
    ov.text(x=[hx0], y=[hy0], text=["["], text_font=value(MONO), text_font_style="bold", text_font_size=f"{fs}px", text_color="black",
            text_baseline="middle")
    ov.text(x=[hx0 + 2 * cw], y=[hy0], text=[txt], text_font=value(MONO), text_font_size=f"{fs}px", text_color="#0000a8",
            text_font_style="bold", text_baseline="middle")
    ov.text(x=[hx0 + (len(txt) + 3) * cw], y=[hy0], text=["]"], text_font=value(MONO), text_font_style="bold", text_font_size=f"{fs}px",
            text_color="black", text_baseline="middle")
ov.rect(x=[1294, 1294], y=[152, 166], width=9, height=9, fill_color=["#c6e01f", "#5a3ff0"], line_color="#bbb")
ov.text(x=[1302, 1302], y=[152, 166], text=["LPS=NO", "LPS=YES"], text_font=value(SANS), text_font_size="11.5px", text_color="#666",
        text_baseline="middle")
ov.text(x=[1290], y=[139], text=["LPS"], text_font=value(SANS), text_font_size="11.5px", text_font_style="bold", text_color="#555",
        text_baseline="middle")
for px, py, text, size, color, font, style, angle in LABELS:
    ov.text(x=[px], y=[py], text=[text], text_font=value(font), text_font_size=f"{size}px", text_color=color, text_font_style=style,
            angle=angle, text_align="center", text_baseline="middle")

root = column(*figs, width=1422, height=1618, sizing_mode="fixed", styles={"position": "absolute", "left": "0px", "top": "0px"})
open("out.html", "w").write(file_html(root, INLINE))
